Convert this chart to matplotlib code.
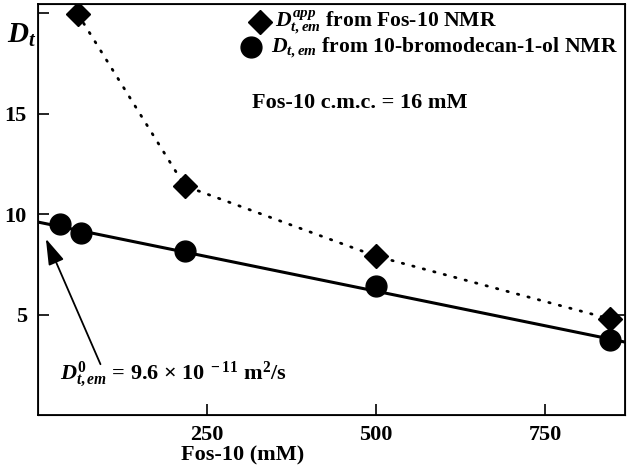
import numpy as np
import matplotlib.pyplot as plt

plt.rcParams['font.family'] = 'Liberation Serif'
plt.rcParams['font.weight'] = 'bold'
plt.rcParams['mathtext.fontset'] = 'custom'
plt.rcParams['mathtext.rm'] = 'Liberation Serif:bold'
plt.rcParams['mathtext.it'] = 'Liberation Serif:italic:bold'
plt.rcParams['mathtext.bf'] = 'Liberation Serif:bold'

# data
fos_conc_app = [59, 217, 500, 846]
d_app = [19.95, 11.4, 7.9, 4.78]

fos_conc_em = [32, 64, 218, 500, 846]
d_em = [9.5, 9.05, 8.15, 6.4, 3.73]

# linear fit of D_t,em
fit_intercept = 9.6
fit_slope = -0.00688

x_ticks = [250, 500, 750]
y_ticks = [5, 10, 15, 20]
y_ticklabels = ['5', '10', '15', '']

fig = plt.figure(figsize=(6.3, 4.72), dpi=100)
ax = fig.add_axes([38/630, 57/472, 587/630, 411/472])

ax.set_xlim(0, 868)
ax.set_ylim(0, 20.45)

xfit = np.array([0, 868])
ax.plot(xfit, fit_intercept + fit_slope * xfit, color='black', lw=2.2, zorder=2)
ax.plot(fos_conc_app, d_app, color='black', lw=2.0, ls=(0, (0.5, 3.4)),
        dash_capstyle='round', zorder=2)
ax.plot(fos_conc_app, d_app, 'D', color='black', ms=12, zorder=3)
ax.plot(fos_conc_em, d_em, 'o', color='black', ms=15, zorder=3, clip_on=False)

ax.set_xticks(x_ticks)
ax.set_yticks(y_ticks)
ax.set_yticklabels(y_ticklabels)
ax.tick_params(direction='in', length=8, width=1.2, labelsize=16, pad=7)
ax.tick_params(axis='y', pad=8)
for sp in ax.spines.values():
    sp.set_linewidth(1.3)

tw = ax.twinx()
tw.set_ylim(ax.get_ylim())
tw.set_yticks([5])
tw.set_yticklabels([''])
tw.tick_params(direction='in', length=8, width=1.2)

ax.text(303, -2.0, 'Fos-10 (mM)', fontsize=16, ha='center', va='center')
ax.text(-46, 18.9, r'$D_t$', fontsize=21, ha='left', va='center', clip_on=False)

# legend drawn by hand
ax.plot([329], [19.55], 'D', color='black', ms=12)
ax.plot([315], [18.3], 'o', color='black', ms=15)
ax.text(350, 19.55, r'$D_{t,em}^{app}$ from Fos-10 NMR', fontsize=15.6,
        va='center', ha='left')
ax.text(345, 18.25, r'$D_{t,em}$ from 10-bromodecan-1-ol NMR', fontsize=15.6,
        va='center', ha='left')
ax.text(316, 15.5, 'Fos-10 c.m.c. = 16 mM', fontsize=16, va='center', ha='left')

ax.annotate('', xy=(10, 8.9), xytext=(94, 2.4),
            arrowprops=dict(arrowstyle='-|>,head_length=1.6,head_width=0.5',
                            color='black', lw=1.3))
ax.text(32, 2.05, r'$D_{t,em}^{0}$ = 9.6 $\times$ 10$^{\ -11}$ m$^2$/s',
        fontsize=16, va='center', ha='left')

fig.savefig('out.png', dpi=100)
